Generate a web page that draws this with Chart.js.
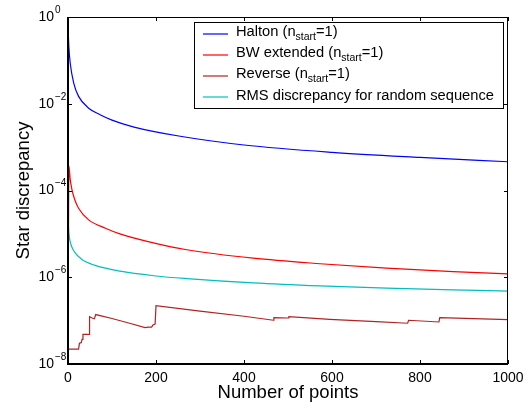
<!DOCTYPE html>
<html>
<head>
<meta charset="utf-8">
<script src="https://cdn.jsdelivr.net/npm/chart.js@4.4.1/dist/chart.umd.min.js"></script>
<style>
  body { margin: 0; background: #fff; }
</style>
</head>
<body>
<canvas id="myChart" width="530" height="410"></canvas>
<script>
// values
const haltonN = [1, 2, 5, 13, 24, 47, 73, 100, 150, 255, 400, 600, 800, 1000]
const haltonValues = [0.35, 0.2, 0.087, 0.030, 0.0148, 0.0079, 0.0056, 0.0042, 0.0029, 0.00178, 0.00112, 0.00076, 0.00058, 0.00046]

const bwN = [1, 2, 5, 9, 15, 24, 47, 85, 118, 194, 270, 421, 573, 724, 875, 1000]
const bwValues = [7e-6, 3.7e-4, 1.8e-4, 1.05e-4, 6.3e-5, 3.9e-5, 2.1e-5, 1.35e-5, 1.0e-5, 6.2e-6, 4.3e-6, 2.75e-6, 2.05e-6, 1.62e-6, 1.35e-6, 1.2e-6]

const reverseN = [1, 24, 26, 30, 32, 34, 48, 49, 55, 60, 63, 100, 140, 175, 183, 190, 193, 198, 200, 300, 400, 467, 468, 500, 502, 595, 700, 772, 774, 843, 845, 1000]
const reverseValues = [2.2e-8, 2.2e-8, 3.0e-8, 3.1e-8, 3.7e-8, 4.8e-8, 4.8e-8, 1.23e-7, 1.15e-7, 1.1e-7, 1.38e-7, 1.12e-7, 8.7e-8, 6.9e-8, 7.1e-8, 7.1e-8, 7.9e-8, 8.3e-8, 2.2e-7, 1.66e-7, 1.26e-7, 1.02e-7, 1.17e-7, 1.15e-7, 1.23e-7, 1.07e-7, 9.5e-8, 8.7e-8, 1.02e-7, 9.3e-8, 1.17e-7, 1.05e-7]

const rmsN = [1, 2, 4, 8, 15, 31, 60, 118, 200, 270, 421, 573, 724, 875, 1000]
const rmsValues = [1.48e-5, 1.05e-5, 7.4e-6, 5.2e-6, 3.8e-6, 2.6e-6, 1.9e-6, 1.38e-6, 1.07e-6, 9.3e-7, 7.4e-7, 6.3e-7, 5.6e-7, 5.1e-7, 4.8e-7]

const xTicks = [0, 200, 400, 600, 800, 1000]
const yExponents = [0, -2, -4, -6, -8]

// legend rows: label, subscript, rest
const legendRows = [
  { text: 'Halton (n', sub: 'start', tail: '=1)', color: '#0000ff' },
  { text: 'BW extended (n', sub: 'start', tail: '=1)', color: '#ff0000' },
  { text: 'Reverse (n', sub: 'start', tail: '=1)', color: '#b22222' },
  { text: 'RMS discrepancy for random sequence', sub: '', tail: '', color: '#00bfbf' }
]

const FONT = 'Liberation Sans, Arial, Helvetica, sans-serif'
Chart.defaults.font.family = FONT
Chart.defaults.color = '#000'

const toPoints = (ns, values) => ns.map((n, i) => ({ x: n, y: values[i] }))

const makeDataset = (ns, values, color, smooth) => ({
  data: toPoints(ns, values),
  borderColor: color,
  backgroundColor: 'transparent',
  borderWidth: 1.2,
  pointRadius: 0,
  cubicInterpolationMode: smooth ? 'monotone' : 'default',
  tension: 0
})

const frame = {
  id: 'frame',
  afterDraw (chart) {
    const ctx = chart.ctx
    const { left, right, top, bottom } = chart.chartArea
    const xs = chart.scales.x
    const ys = chart.scales.y
    ctx.save()

    // box
    ctx.strokeStyle = '#000'
    ctx.lineWidth = 1
    ctx.strokeRect(left + 0.5, top + 0.5, right - left - 1, bottom - top - 1)
    ctx.lineWidth = 2
    ctx.beginPath()
    ctx.moveTo(left, top)
    ctx.lineTo(left, bottom)
    ctx.lineTo(right, bottom)
    ctx.stroke()

    // inward tick marks
    ctx.lineWidth = 1
    ctx.beginPath()
    for (const v of xTicks) {
      const px = Math.round(xs.getPixelForValue(v)) + 0.5
      ctx.moveTo(px, bottom); ctx.lineTo(px, bottom - 4)
      ctx.moveTo(px, top); ctx.lineTo(px, top + 4)
    }
    for (const e of yExponents) {
      const py = Math.round(ys.getPixelForValue(Math.pow(10, e))) + 0.5
      ctx.moveTo(left, py); ctx.lineTo(left + 4, py)
      ctx.moveTo(right, py); ctx.lineTo(right - 4, py)
    }
    ctx.stroke()

    // y tick labels with superscript exponent
    ctx.fillStyle = '#000'
    ctx.textBaseline = 'middle'
    for (const e of yExponents) {
      const py = ys.getPixelForValue(Math.pow(10, e))
      ctx.font = '14px ' + FONT
      ctx.textAlign = 'right'
      ctx.fillText('10', 54, py)
      ctx.font = '10px ' + FONT
      ctx.textAlign = 'left'
      ctx.fillText(e === 0 ? '0' : '\u2212' + Math.abs(e), 55, py - 7)
    }

    // legend
    const lx = 194, ly = 22, lw = 309, lh = 86
    ctx.fillStyle = '#fff'
    ctx.fillRect(lx, ly, lw, lh)
    ctx.strokeStyle = '#000'
    ctx.lineWidth = 1
    ctx.strokeRect(lx + 0.5, ly + 0.5, lw, lh)
    const rowY = [34, 55, 76, 97]
    legendRows.forEach((row, i) => {
      const y = rowY[i]
      ctx.strokeStyle = row.color
      ctx.lineWidth = 1.2
      ctx.beginPath()
      ctx.moveTo(203, y)
      ctx.lineTo(228, y)
      ctx.stroke()
      const ty = row.sub ? y - 2.5 : y - 1
      ctx.fillStyle = '#000'
      ctx.textAlign = 'left'
      ctx.font = '14.7px ' + FONT
      ctx.fillText(row.text, 236, ty)
      if (row.sub) {
        let x = 236 + ctx.measureText(row.text).width
        ctx.font = '10.5px ' + FONT
        ctx.fillText(row.sub, x, ty + 6)
        x += ctx.measureText(row.sub).width
        ctx.font = '14.7px ' + FONT
        ctx.fillText(row.tail, x, ty)
      }
    })
    ctx.restore()
  }
}

const ctx = document.getElementById('myChart')
new Chart(ctx, {
  type: 'line',
  data: {
    datasets: [
      makeDataset(haltonN, haltonValues, '#0000ff', true),
      makeDataset(bwN, bwValues, '#ff0000', true),
      makeDataset(reverseN, reverseValues, '#b22222', false),
      makeDataset(rmsN, rmsValues, '#00bfbf', true)
    ]
  },
  options: {
    responsive: false,
    animation: false,
    layout: { padding: { top: 17, right: 22, left: 0, bottom: 0 } },
    plugins: {
      legend: { display: false },
      tooltip: { enabled: false }
    },
    scales: {
      x: {
        type: 'linear',
        min: 0,
        max: 1000,
        grid: { display: false, drawTicks: false },
        border: { display: false },
        ticks: {
          stepSize: 200,
          padding: 6,
          maxRotation: 0,
          font: { size: 14 },
          color: '#000',
          callback: (value) => String(value)
        },
        title: { display: true, text: 'Number of points', font: { size: 18.5 }, color: '#000', padding: { top: 0, bottom: 6 } },
        afterFit: (scale) => { scale.height = 46 }
      },
      y: {
        type: 'logarithmic',
        min: 1e-8,
        max: 1,
        grid: { display: false, drawTicks: false },
        border: { display: false },
        ticks: { display: false },
        title: { display: true, text: 'Star discrepancy', font: { size: 18.5 }, color: '#000', padding: { top: 13, bottom: 0 } },
        afterFit: (scale) => { scale.width = 68 }
      }
    }
  },
  plugins: [frame]
})
</script>
</body>
</html>
